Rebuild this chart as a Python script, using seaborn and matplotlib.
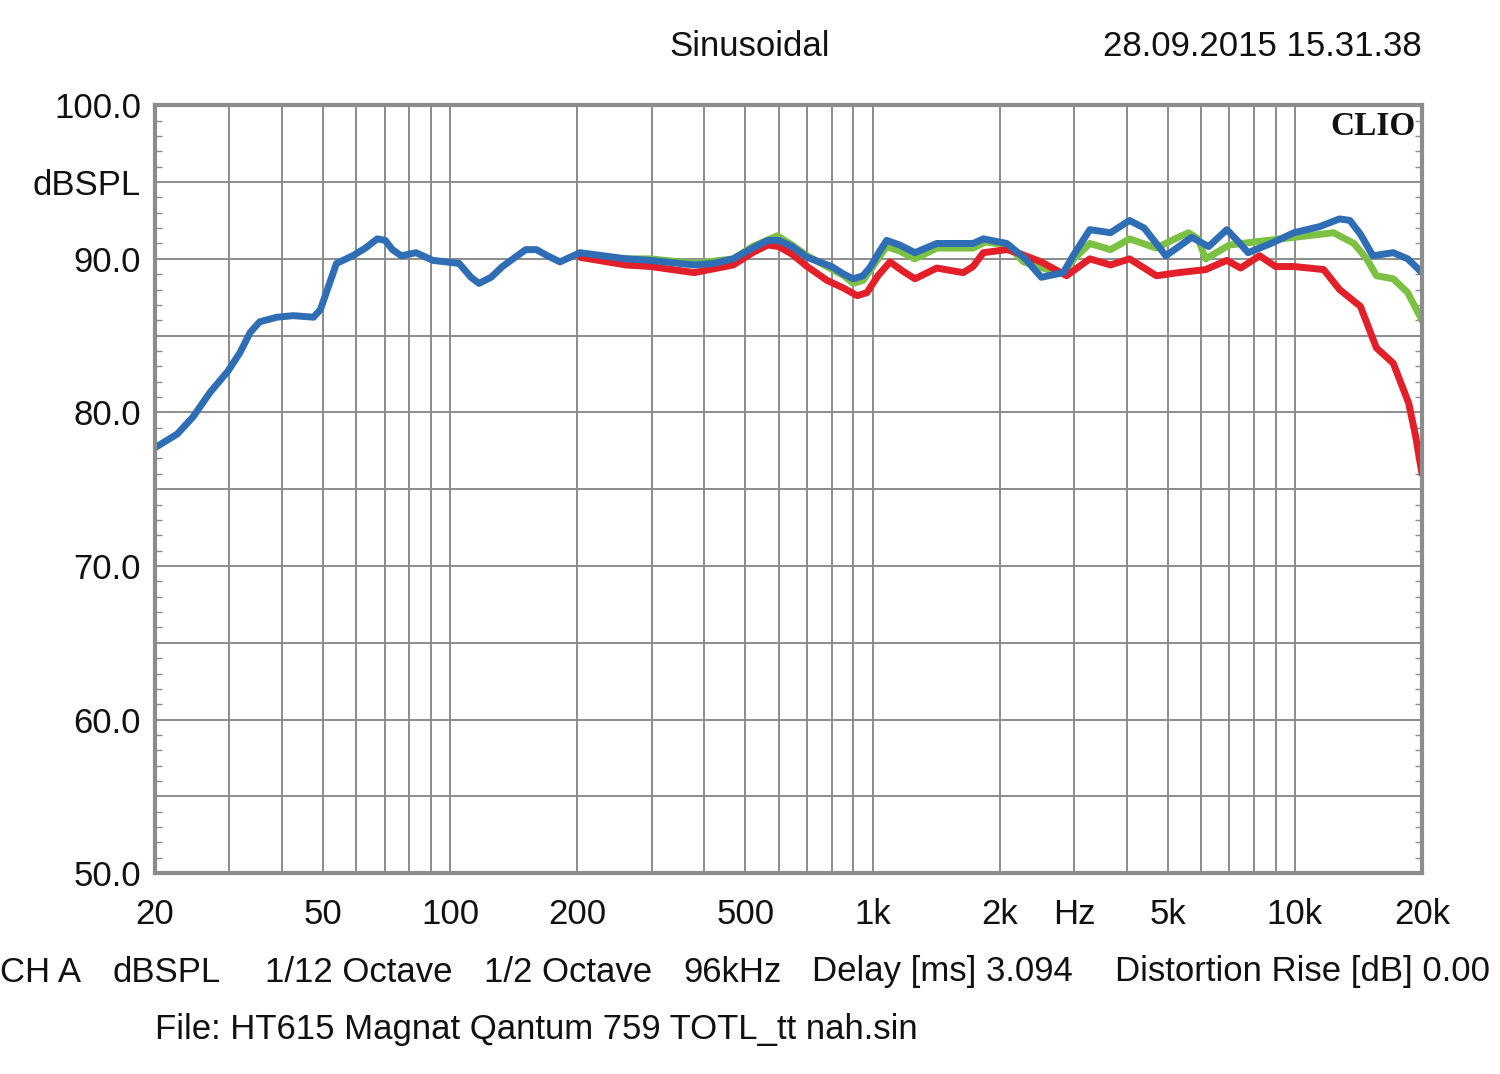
import numpy as np
import pandas as pd
import matplotlib
matplotlib.use("Agg")
import matplotlib.pyplot as plt
import seaborn as sns
from matplotlib.ticker import FixedLocator, NullFormatter

# ---- data ----
blue_f = [20, 22.6, 24.6, 27, 29.8, 31.8, 33.6, 35.4, 38.9, 42.5, 47.5, 49.3, 51.2, 53.8, 58.8, 63,
          67.2, 70.2, 73, 76.6, 83, 91, 105, 112, 117, 125, 133, 151, 160, 170, 182, 203, 261, 298,
          378, 420, 468, 520, 565, 600, 645, 700, 800, 855, 900, 950, 990, 1040, 1080, 1160, 1260,
          1420, 1730, 1830, 2080, 2300, 2510, 2830, 3000, 3270, 3660, 4060, 4400, 4950, 5700, 6250,
          6900, 7300, 7750, 8780, 9950, 11450, 12760, 13500, 14300, 15300, 17100, 18500, 20000]
blue_db = [77.7, 78.6, 79.7, 81.3, 82.7, 83.9, 85.2, 85.9, 86.2, 86.3, 86.2, 86.7, 88.0, 89.7, 90.2,
           90.7, 91.3, 91.2, 90.6, 90.2, 90.4, 89.9, 89.7, 88.8, 88.4, 88.8, 89.5, 90.6, 90.6, 90.2,
           89.8, 90.4, 90.0, 89.9, 89.6, 89.7, 90.0, 90.7, 91.2, 91.2, 90.8, 90.1, 89.5, 89.0, 88.7,
           88.9, 89.5, 90.5, 91.2, 90.9, 90.4, 91.0, 91.0, 91.3, 91.0, 90.0, 88.8, 89.1, 90.3, 91.9,
           91.7, 92.5, 92.0, 90.2, 91.4, 90.8, 91.9, 91.2, 90.4, 91.0, 91.7, 92.1, 92.6, 92.5, 91.6,
           90.2, 90.4, 90.0, 89.1]

green_f = [200, 261, 298, 378, 468, 520, 595, 645, 700, 855, 900, 950, 990, 1080, 1160, 1260, 1420,
           1730, 1850, 2080, 2280, 2600, 2830, 3000, 3270, 3660, 4060, 4700, 5200, 5600, 5900, 6150,
           7000, 8030, 9950, 12350, 13800, 14800, 15600, 17100, 18500, 20000]
green_db = [90.2, 90.0, 90.0, 89.7, 90.0, 90.8, 91.5, 90.9, 90.2, 88.9, 88.4, 88.6, 89.3, 90.8, 90.5,
            90.0, 90.7, 90.7, 91.1, 90.9, 89.8, 89.3, 89.1, 90.0, 91.0, 90.6, 91.3, 90.7, 91.3, 91.7,
            91.3, 90.0, 90.9, 91.1, 91.4, 91.7, 91.0, 90.0, 88.9, 88.7, 87.8, 86.0]

red_f = [203, 261, 298, 378, 468, 520, 565, 600, 645, 700, 780, 853, 920, 970, 1030, 1100, 1180,
         1260, 1420, 1640, 1730, 1830, 2080, 2200, 2510, 2880, 3270, 3660, 4060, 4400, 4700, 5300,
         6150, 6900, 7440, 8250, 9000, 9950, 11700, 12760, 14300, 15600, 17100, 18600, 19300, 20000]
red_db = [90.1, 89.6, 89.5, 89.1, 89.6, 90.4, 90.9, 90.8, 90.3, 89.5, 88.6, 88.1, 87.6, 87.8, 88.9,
          89.8, 89.2, 88.7, 89.4, 89.1, 89.5, 90.4, 90.6, 90.4, 89.8, 88.9, 90.0, 89.6, 90.0, 89.4,
          88.9, 89.1, 89.3, 89.9, 89.4, 90.2, 89.5, 89.5, 89.3, 88.0, 86.9, 84.2, 83.2, 80.6, 78.5, 76.0]

x_tick_vals = [20, 50, 100, 200, 500, 1000, 2000, 3000, 5000, 10000, 20000]
x_tick_labels = ["20", "50", "100", "200", "500", "1k", "2k", "Hz", "5k", "10k", "20k"]
y_tick_vals = [50, 55, 60, 65, 70, 75, 80, 85, 90, 95, 100]
y_tick_labels = ["50.0", "", "60.0", "", "70.0", "", "80.0", "", "90.0", "dBSPL", "100.0"]

title_center = "Sinusoidal"
title_right = "28.09.2015 15.31.38"
footer_items = ["CH A", "dBSPL", "1/12 Octave", "1/2 Octave", "96kHz", "Delay [ms] 3.094",
                "Distortion Rise [dB] 0.00"]
footer2 = "File: HT615 Magnat Qantum 759 TOTL_tt nah.sin"

# ---- plotting ----
sns.set_style("white")
plt.rcParams['font.family'] = ['Liberation Sans', 'DejaVu Sans']

fig = plt.figure(figsize=(15, 10.74), dpi=100)
ax = fig.add_axes([0.1033, 0.187, 0.8447, 0.715])

GREEN = "#7cc143"
RED = "#e3202a"
BLUE = "#2f6db5"
lw = 5.0
kw = dict(estimator=None, sort=False, ax=ax, solid_joinstyle="round", solid_capstyle="round")
sns.lineplot(x=green_f, y=green_db, color=GREEN, lw=lw, **kw)
sns.lineplot(x=red_f, y=red_db, color=RED, lw=lw, **kw)
sns.lineplot(x=blue_f, y=blue_db, color=BLUE, lw=lw, **kw)

ax.set_xscale("log")
ax.set_xlim(20, 20000)
ax.set_ylim(50, 100)

grid_f = []
for dec in [10, 100, 1000, 10000]:
    for m in range(1, 10):
        v = dec * m
        if 20 <= v <= 20000:
            grid_f.append(v)
for v in grid_f:
    ax.axvline(v, color="#8c8c8c", lw=1.4, zorder=0)
for v in y_tick_vals:
    ax.axhline(v, color="#8c8c8c", lw=1.4, zorder=0)

ax.xaxis.set_major_locator(FixedLocator(x_tick_vals))
ax.set_xticklabels(x_tick_labels)
ax.xaxis.set_minor_locator(FixedLocator([]))
ax.xaxis.set_minor_formatter(NullFormatter())
ax.set_yticks(y_tick_vals)
ax.set_yticklabels(y_tick_labels)
ax.yaxis.set_minor_locator(FixedLocator(np.arange(50, 101, 1)))
ax.tick_params(axis="x", which="both", length=0, pad=18, labelsize=25, labelcolor="#111111")
ax.tick_params(axis="y", which="major", length=0, pad=10, labelsize=25, labelcolor="#111111")
ax.tick_params(axis="y", which="minor", length=5, width=1, direction="in", right=True, left=True,
               color="#8c8c8c")
ax.set_xlabel("")
ax.set_ylabel("")
for s in ax.spines.values():
    s.set_color("#8c8c8c")
    s.set_linewidth(3)
    s.set_visible(True)

ax.text(0.995, 0.993, "CLIO", transform=ax.transAxes, ha="right", va="top",
        fontsize=24, fontweight="bold", family="Liberation Serif", color="#111111")

fig.text(750 / 1500, 1 - 47 / 1074, title_center, ha="center", va="center", fontsize=25, color="#111111")
fig.text(1422 / 1500, 1 - 47 / 1074, title_right, ha="right", va="center", fontsize=25, color="#111111")
footer_x = [0, 113, 265, 484, 683, 812, 1115]
for xp, t in zip(footer_x, footer_items):
    fig.text(xp / 1500, 1 - 972 / 1074, t, ha="left", va="center", fontsize=25, color="#111111")
fig.text(155 / 1500, 1 - 1030 / 1074, footer2, ha="left", va="center", fontsize=25, color="#111111")

fig.savefig("out.png", dpi=100, facecolor="white")
